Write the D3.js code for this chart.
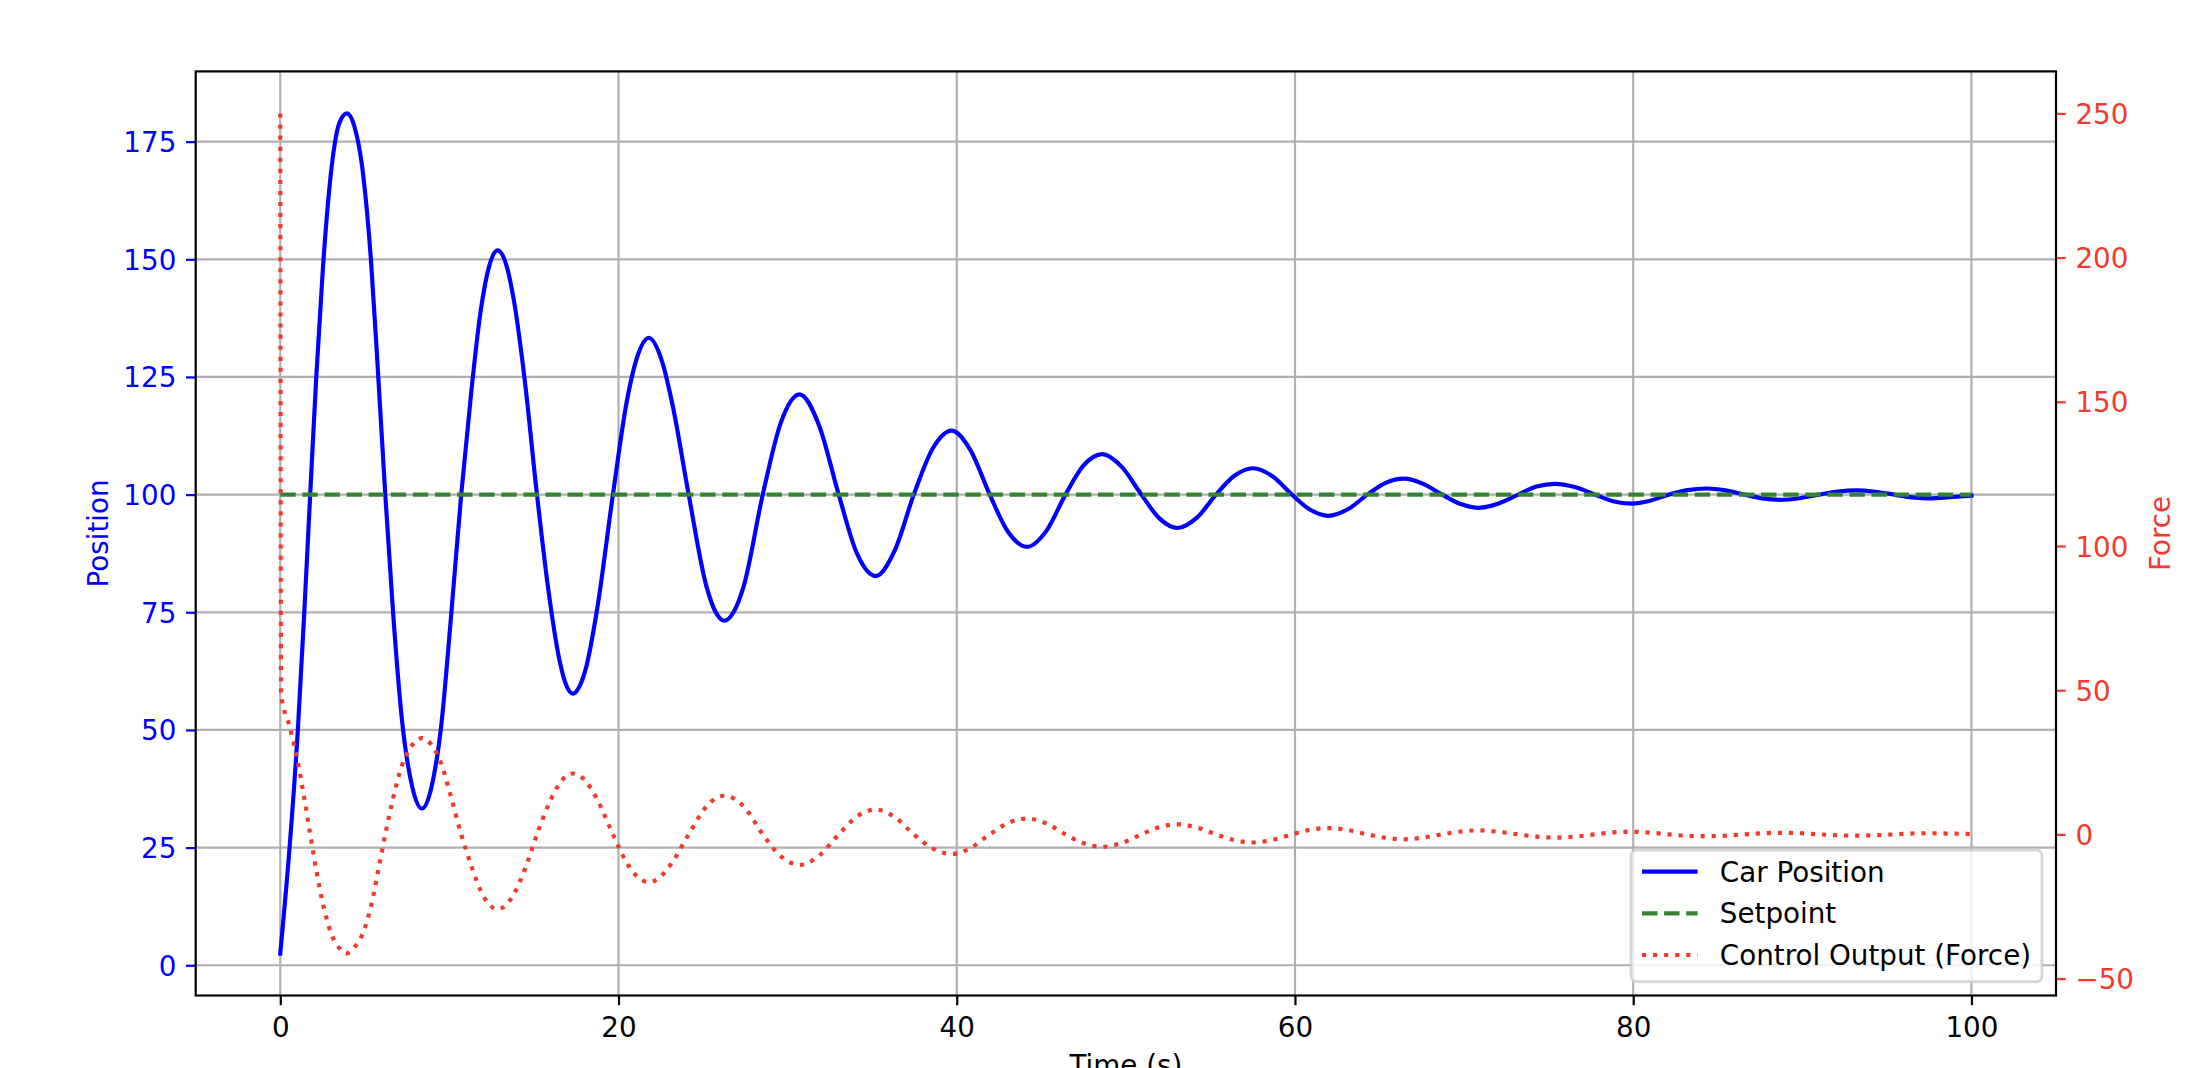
<!DOCTYPE html>
<html><head><meta charset="utf-8">
<script src="https://cdn.jsdelivr.net/npm/d3@7"></script>
<style>html,body{margin:0;padding:0;background:#fff;} svg{display:block;}</style>
</head><body>
<script>
// ---- data ----
const timeValues = [0,0.55,1.04,1.42,1.77,2.13,2.52,3.05,3.5,3.94,4.4,4.83,5.36,5.78,6.21,6.67,7.2,7.8,8.38,8.95,9.52,10.05,10.7,11.3,11.85,12.35,12.85,13.35,13.85,14.45,15.18,15.9,16.5,16.9,17.31,17.7,18.1,18.73,19.67,20.5,21.0,21.8,22.6,23.2,24.15,25.2,25.75,26.26,26.8,27.4,28.53,29.6,30.7,31.86,33.02,34.1,35.21,36.33,37.46,38.58,39.7,40.82,41.95,43.05,44.16,45.3,46.43,47.5,48.6,49.76,50.92,52.0,53.06,54.2,55.33,56.42,57.52,58.67,59.82,60.9,61.98,63.13,64.28,65.36,66.45,67.58,68.7,69.8,70.88,72.04,73.2,74.28,75.37,76.55,77.74,78.8,79.9,81.0,82.1,83.2,84.34,85.46,86.59,87.65,88.7,89.85,91.0,92.1,93.19,94.3,95.43,96.5,97.55,98.7,100];
const positionValues = [2.5,25,50,75,100,125,148,170,179,181.0,178,170,150,126,100,75,52,38,33.3,38,51,72,100,122,139,148.5,151.9,149,140.5,124.5,100,78.5,65,59.6,57.7,59.3,63.5,75.5,100,120,128,133.3,128,119,100,80.5,75.0,73.2,75.0,80.5,100,115.3,121.3,114.7,100,87.5,82.7,88.1,100,109.8,113.6,109.4,100,92.0,88.9,92.3,100,106.2,108.6,105.9,100,94.9,92.9,95.1,100,104.0,105.6,103.9,100,96.8,95.5,96.9,100,102.5,103.4,102.3,100,98.0,97.2,98.1,100,101.7,102.3,101.6,100,98.6,98.1,98.7,100,100.95,101.3,100.9,100,99.2,98.9,99.24,100,100.65,100.9,100.62,100,99.42,99.2,99.45,99.8];
const forceTime = [0,0.05,0.55,1.04,1.42,1.77,2.13,2.52,3.05,3.5,3.9,4.4,4.83,5.36,5.78,6.21,6.67,7.2,7.8,8.38,8.95,9.52,10.05,10.7,11.3,11.85,12.35,12.85,13.35,13.85,14.45,15.18,15.9,16.5,16.9,17.31,17.7,18.1,18.73,19.67,20.5,21.0,21.8,22.6,23.2,24.15,25.2,25.75,26.26,26.8,27.4,28.53,29.6,30.7,31.86,33.02,34.1,35.21,36.33,37.46,38.58,39.7,40.82,41.95,43.05,44.16,45.3,46.43,47.5,48.6,49.76,50.92,52.0,53.06,54.2,55.33,56.42,57.52,58.67,59.82,60.9,61.98,63.13,64.28,65.36,66.45,67.58,68.7,69.8,70.88,72.04,73.2,74.28,75.37,76.55,77.74,78.8,79.9,81.0,82.1,83.2,84.34,85.46,86.59,87.65,88.7,89.85,91.0,92.1,93.19,94.3,95.43,96.5,97.55,98.7,100];
const forceValues = [250,48.5,37.5,25,12.5,0,-12.5,-24,-35,-39.5,-41.3,-39,-35,-25,-13,0,12.5,24,31,33.4,31,24.5,14,0,-11,-19.5,-24.3,-25.9,-24.5,-20.3,-12.3,0,10.8,17.5,20.2,21.1,20.3,18.2,12.2,0,-10,-14,-16.6,-14,-9.5,0,9.7,12.5,13.4,12.5,9.7,0,-7.6,-10.6,-7.4,0,6.2,8.6,6.0,0,-4.9,-6.8,-4.7,0,4.0,5.5,3.8,0,-3.1,-4.3,-3.0,0,2.5,3.5,2.4,0,-2.0,-2.8,-1.9,0,1.6,2.2,1.5,0,-1.2,-1.7,-1.1,0,1.0,1.4,0.9,0,-0.8,-1.1,-0.8,0,0.7,0.9,0.6,0,-0.5,-0.6,-0.45,0,0.4,0.55,0.4,0,-0.3,-0.45,-0.3,0,0.3,0.4,0.28,0.1];
const setpointTime = [0, 100];
const setpointValues = [100, 100];
const xTicks = [0, 20, 40, 60, 80, 100];
const positionTicks = [0, 25, 50, 75, 100, 125, 150, 175];
const forceTicks = [-50, 0, 50, 100, 150, 200, 250];
const seriesNames = ["Car Position", "Setpoint", "Control Output (Force)"];
const axisLabels = {x: "Time (s)", left: "Position", right: "Force"};

// ---- layout / style ----
const W = 2206, H = 1068;
const L = 195.7, R = 2056, T = 71.4, B = 995.5;
const FS = 27.78, LW = 4.17, THIN = 2.2, TICK = 9.7, PAD = 9.7;
const BLUE = "#0000ff", GREEN = "#338333", RED = "#f03a2e", GRID = "#b0b0b0";
const FONT = "DejaVu Sans";

const pad = ([a, b]) => [a - 0.05 * (b - a), b + 0.05 * (b - a)];

const x = d3.scaleLinear().domain(pad(d3.extent(timeValues))).range([L, R]);
const yPos = d3.scaleLinear().domain(pad(d3.extent(positionValues))).range([B, T]);
const yF = d3.scaleLinear().domain(pad(d3.extent(forceValues))).range([B, T]);

const svg = d3.select("body").append("svg").attr("width", W).attr("height", H)
  .attr("font-family", FONT);
svg.append("rect").attr("width", W).attr("height", H).attr("fill", "#fff");

// grid
const grid = svg.append("g").attr("stroke", GRID).attr("stroke-width", THIN);
grid.selectAll("line.v").data(xTicks).join("line").attr("class", "v")
  .attr("x1", d => x(d)).attr("x2", d => x(d)).attr("y1", T).attr("y2", B);
grid.selectAll("line.h").data(positionTicks).join("line").attr("class", "h")
  .attr("y1", d => yPos(d)).attr("y2", d => yPos(d)).attr("x1", L).attr("x2", R);

svg.append("clipPath").attr("id", "clip").append("rect")
  .attr("x", L).attr("y", T).attr("width", R - L).attr("height", B - T);
const plot = svg.append("g").attr("clip-path", "url(#clip)");

const posLine = d3.line().x(i => x(timeValues[i])).y(i => yPos(positionValues[i])).curve(d3.curveMonotoneX);
const spLine = d3.line().x(i => x(setpointTime[i])).y(i => yPos(setpointValues[i]));
const fLine = d3.line().x(i => x(forceTime[i])).y(i => yF(forceValues[i])).curve(d3.curveMonotoneX);

plot.append("path").attr("d", posLine(d3.range(timeValues.length)))
  .attr("fill", "none").attr("stroke", BLUE).attr("stroke-width", LW)
  .attr("stroke-linejoin", "round").attr("stroke-linecap", "square");
plot.append("path").attr("d", spLine(d3.range(setpointTime.length)))
  .attr("fill", "none").attr("stroke", GREEN).attr("stroke-width", LW)
  .attr("stroke-dasharray", `${3.7 * LW} ${1.6 * LW}`);
plot.append("path").attr("d", fLine(d3.range(forceTime.length)))
  .attr("fill", "none").attr("stroke", RED).attr("stroke-width", LW)
  .attr("stroke-linejoin", "round")
  .attr("stroke-dasharray", `${1 * LW} ${1.65 * LW}`);

// axes
function styleAxis(g, color) {
  g.select(".domain").remove();
  g.selectAll(".tick line").attr("stroke", color).attr("stroke-width", THIN);
  g.selectAll(".tick text").attr("fill", color).attr("font-size", FS).attr("font-family", FONT);
}
const fmt = d3.format("d");
const gx = svg.append("g").attr("transform", `translate(0,${B})`)
  .call(d3.axisBottom(x).tickValues(xTicks).tickFormat(fmt).tickSize(TICK).tickPadding(PAD));
styleAxis(gx, "#000");
gx.selectAll(".tick text").attr("dy", "0.8em");

const gl = svg.append("g").attr("transform", `translate(${L},0)`)
  .call(d3.axisLeft(yPos).tickValues(positionTicks).tickFormat(fmt).tickSize(TICK).tickPadding(PAD));
styleAxis(gl, BLUE);
gl.selectAll(".tick text").attr("dy", "0.36em");

const gr = svg.append("g").attr("transform", `translate(${R},0)`)
  .call(d3.axisRight(yF).tickValues(forceTicks).tickFormat(fmt).tickSize(TICK).tickPadding(PAD));
styleAxis(gr, RED);
gr.selectAll(".tick text").attr("dy", "0.36em");

// spines
svg.append("rect").attr("x", L).attr("y", T).attr("width", R - L).attr("height", B - T)
  .attr("fill", "none").attr("stroke", "#000").attr("stroke-width", THIN);

// axis labels
svg.append("text").attr("x", (L + R) / 2).attr("y", 1075.3).attr("text-anchor", "middle")
  .attr("font-size", FS).attr("fill", "#000").text(axisLabels.x);
svg.append("text").attr("transform", `translate(108,${(T + B) / 2}) rotate(-90)`)
  .attr("text-anchor", "middle").attr("font-size", FS).attr("fill", BLUE).text(axisLabels.left);
svg.append("text").attr("transform", `translate(2170,${(T + B) / 2}) rotate(-90)`)
  .attr("text-anchor", "middle").attr("font-size", FS).attr("fill", RED).text(axisLabels.right);

// legend
const lg = svg.append("g");
const lx = 1631, ly = 850, lw = 411, lh = 131.6;
lg.append("rect").attr("x", lx).attr("y", ly).attr("width", lw).attr("height", lh)
  .attr("rx", 5.6).attr("ry", 5.6)
  .attr("fill", "#fff").attr("fill-opacity", 0.8)
  .attr("stroke", "#cccccc").attr("stroke-opacity", 0.8).attr("stroke-width", 2.78);
const legendStyles = [
  {color: BLUE, dash: null},
  {color: GREEN, dash: `${3.7 * LW} ${1.6 * LW}`},
  {color: RED, dash: `${1 * LW} ${1.65 * LW}`}
];
seriesNames.forEach((name, i) => {
  const cy = 871.7 + i * 41.65;
  const ln = lg.append("line").attr("x1", 1642).attr("x2", 1697.6).attr("y1", cy).attr("y2", cy)
    .attr("stroke", legendStyles[i].color).attr("stroke-width", LW);
  if (legendStyles[i].dash) ln.attr("stroke-dasharray", legendStyles[i].dash);
  lg.append("text").attr("x", 1719.8).attr("y", cy + 10.1).attr("font-size", FS)
    .attr("fill", "#000").text(name);
});
</script>
</body></html>
